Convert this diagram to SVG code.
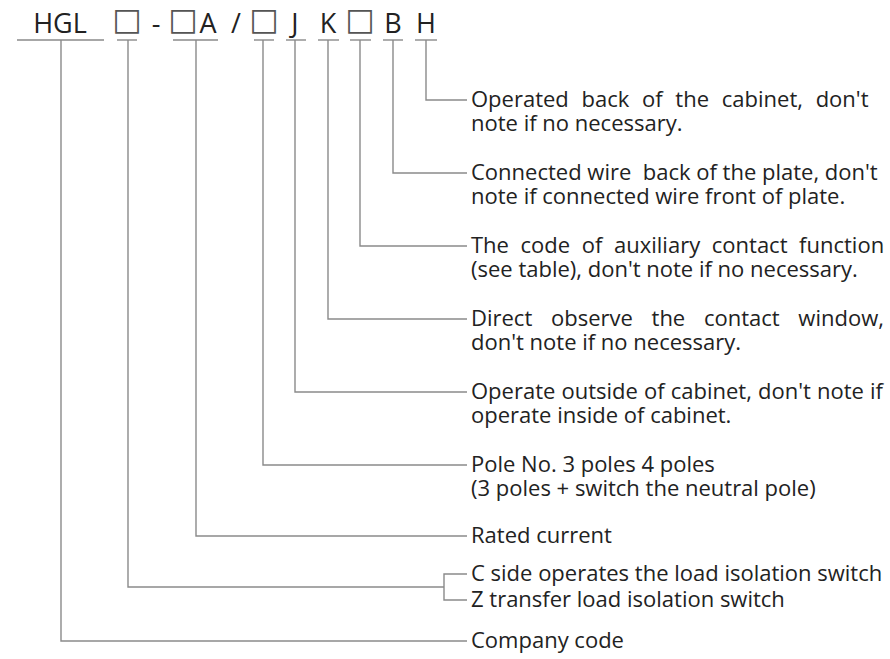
<svg xmlns="http://www.w3.org/2000/svg" width="890" height="659" viewBox="0 0 890 659">
<style>
.code{font-family:"Open Sans","Noto Sans","DejaVu Sans",sans-serif;font-size:27px;fill:#222;text-anchor:middle}
.box{font-family:"DejaVu Sans",sans-serif;font-size:31px;fill:#555;text-anchor:middle}
.lbl{font-family:"Open Sans","Noto Sans",sans-serif;font-size:22px;fill:#222}
.ul{stroke:#8a8a8a;stroke-width:1.4;fill:none}
.cn{stroke:#8a8a8a;stroke-width:1.4;fill:none}
</style>
<rect width="890" height="659" fill="#ffffff"/>
<g id="code">
  <g id="c-hgl"><text class="code" x="60" y="33">HGL</text><line class="ul" x1="17" y1="40" x2="104" y2="40"/></g>
  <g id="c-box1"><text class="box" x="127" y="30">□</text><line class="ul" x1="117" y1="40" x2="137" y2="40"/></g>
  <text class="code" x="156" y="33">-</text>
  <g id="c-boxA"><text class="box" x="183" y="30">□</text><text class="code" x="208" y="33">A</text><line class="ul" x1="173" y1="40" x2="218" y2="40"/></g>
  <text class="code" x="236" y="33">/</text>
  <g id="c-box2"><text class="box" x="264" y="30">□</text><line class="ul" x1="254" y1="40" x2="274" y2="40"/></g>
  <g id="c-J"><text class="code" x="295" y="33">J</text><line class="ul" x1="286" y1="40" x2="306" y2="40"/></g>
  <g id="c-K"><text class="code" x="328" y="33">K</text><line class="ul" x1="318" y1="40" x2="339" y2="40"/></g>
  <g id="c-box3"><text class="box" x="360" y="30">□</text><line class="ul" x1="350" y1="40" x2="371" y2="40"/></g>
  <g id="c-B"><text class="code" x="393" y="33">B</text><line class="ul" x1="383" y1="40" x2="403" y2="40"/></g>
  <g id="c-H"><text class="code" x="426" y="33">H</text><line class="ul" x1="415" y1="40" x2="437" y2="40"/></g>
</g>
<g id="connectors">
  <path class="cn" d="M426 40V100H467"/>
  <path class="cn" d="M393 40V173H467"/>
  <path class="cn" d="M360 40V246H467"/>
  <path class="cn" d="M328 40V319H467"/>
  <path class="cn" d="M295 40V392H467"/>
  <path class="cn" d="M263 40V465H467"/>
  <path class="cn" d="M196 40V536H467"/>
  <path class="cn" d="M128 40V587H444"/>
  <path class="cn" d="M467 574H444V600H467"/>
  <path class="cn" d="M61 40V641H467"/>
</g>
<g id="n-H"><text class="lbl" x="471" y="107" word-spacing="7">Operated back of the cabinet, don't</text><text class="lbl" x="471" y="131">note if no necessary.</text></g>
<g id="n-B"><text class="lbl" x="471" y="180" xml:space="preserve">Connected wire  back of the plate, don't</text><text class="lbl" x="471" y="204">note if connected wire front of plate.</text></g>
<g id="n-box3"><text class="lbl" x="471" y="253" word-spacing="5.9">The code of auxiliary contact function</text><text class="lbl" x="471" y="277">(see table), don't note if no necessary.</text></g>
<g id="n-K"><text class="lbl" x="471" y="326" word-spacing="13">Direct observe the contact window,</text><text class="lbl" x="471" y="350">don't note if no necessary.</text></g>
<g id="n-J"><text class="lbl" x="471" y="399" word-spacing="0.4">Operate outside of cabinet, don't note if</text><text class="lbl" x="471" y="423">operate inside of cabinet.</text></g>
<g id="n-box2"><text class="lbl" x="471" y="472">Pole No. 3 poles 4 poles</text><text class="lbl" x="471" y="496">(3 poles + switch the neutral pole)</text></g>
<g id="n-boxA"><text class="lbl" x="471" y="543">Rated current</text></g>
<g id="n-box1"><text class="lbl" x="471" y="581">C side operates the load isolation switch</text><text class="lbl" x="471" y="607">Z transfer load isolation switch</text></g>
<g id="n-hgl"><text class="lbl" x="471" y="648">Company code</text></g>
</svg>
